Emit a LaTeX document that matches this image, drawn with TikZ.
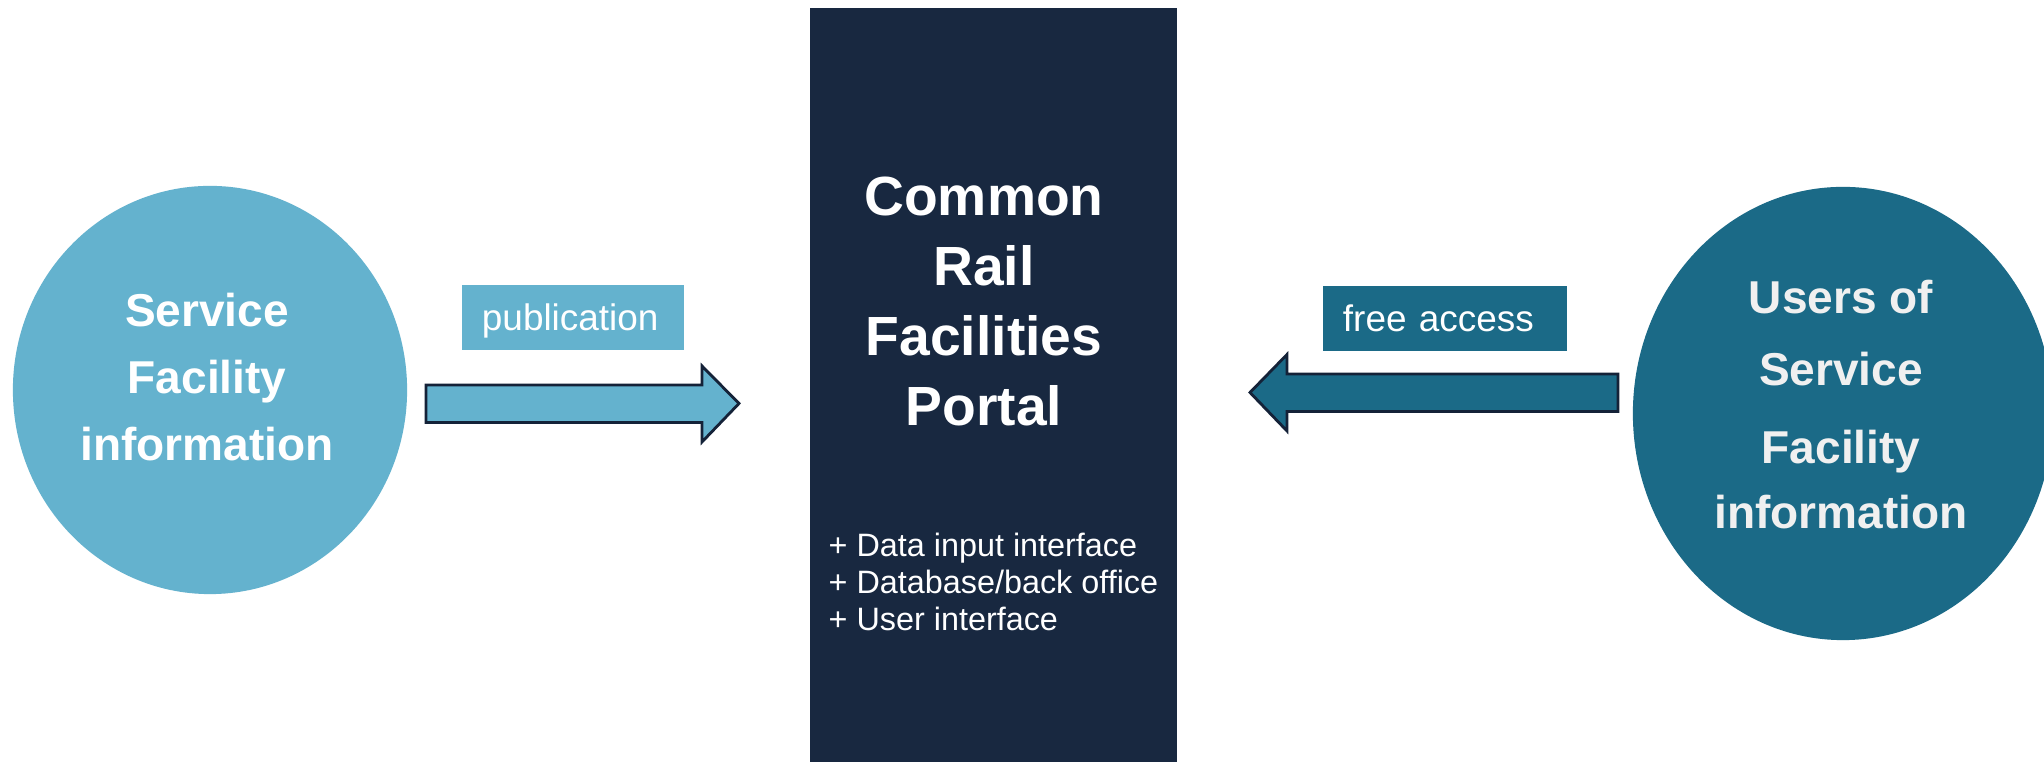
\documentclass[tikz,border=0pt]{standalone}
\usepackage{fontspec}
\setmainfont{Liberation Sans}
\usetikzlibrary{shapes.geometric}

\definecolor{lightblue}{RGB}{100,178,206}
\definecolor{deepteal}{RGB}{27,106,135}
\definecolor{portalnavy}{RGB}{24,40,64}
\definecolor{arrowedge}{RGB}{20,34,56}

\begin{document}
\begin{tikzpicture}[x=0.01cm, y=-0.01cm,
    disc/.style={ellipse, inner sep=0pt},
    bigtxt/.style={align=center, inner sep=0pt, font=\bfseries\fontsize{13.1}{19.1}\selectfont},
    tag/.style={inner xsep=0.2cm, inner ysep=0pt, minimum height=0.65cm, align=left,
                text height=0.32cm, text depth=0.06cm,
                text=white, font=\fontsize{10.5}{12}\selectfont},
    blockarrow/.style={draw=arrowedge, line width=0.8pt, line join=miter}]
  %tikz  portal, publication / access
    \clip (0,0) rectangle (2044,762);
    \fill[white] (0,0) rectangle (2044,762);

    \node[disc, fill=lightblue, minimum width=3.94cm, minimum height=4.08cm] (src) at (210,390) {};
    \node[disc, fill=deepteal, minimum width=4.2cm, minimum height=4.53cm] (usr) at (1843,413.5) {};
    \node[fill=portalnavy, inner sep=0pt, minimum width=3.67cm, minimum height=7.72cm] (portal) at (993.5,394) {};

    \node[bigtxt, text=white, anchor=north] (srctxt) at (207,292) {Service\\Facility\\information};
    \node[bigtxt, text=white, anchor=north, font=\bfseries\fontsize{15.7}{19.9}\selectfont] (portaltxt) at (984,176) {Common\\Rail\\Facilities\\Portal};
    \node[bigtxt, text=white!94!black, anchor=north, font=\bfseries\fontsize{13.1}{20.5}\selectfont] (usrtxt) at (1841,279)
      {Users of\\Service\\[1.7pt]Facility\\[-2pt]information};

    \node[anchor=north west, align=left, inner sep=0pt, text=white, font=\fontsize{9.2}{10.6}\selectfont] (parts) at (828,532)
      {+ Data input interface\\+ Database/back office\\+ User interface};

    \node[tag, fill=lightblue, text width=1.82cm] (pub) at (573,317.5) {publication};
    \node[tag, fill=deepteal, text width=2.04cm] (acc) at (1445,318.5) {free access};

    % block arrows
    \coordinate (pubtail) at (426,403.5);
    \coordinate (pubtip) at (739,403.5);
    \draw[blockarrow, fill=lightblue] (pubtail) ++(0,-18.5) -- ++(276,0) -- ++(0,-19) -- (pubtip)
      -- ++(-37,38.5) -- ++(0,-19.5) -- ++(-276,0) -- cycle;

    \coordinate (acctail) at (1618,392.5);
    \coordinate (acctip) at (1250,392.5);
    \draw[blockarrow, fill=deepteal] (acctail) ++(0,-18.5) -- ++(-331,0) -- ++(0,-19.5) -- (acctip)
      -- ++(37,38.5) -- ++(0,-19.5) -- ++(331,0) -- cycle;

  \end{tikzpicture}
\end{document}
